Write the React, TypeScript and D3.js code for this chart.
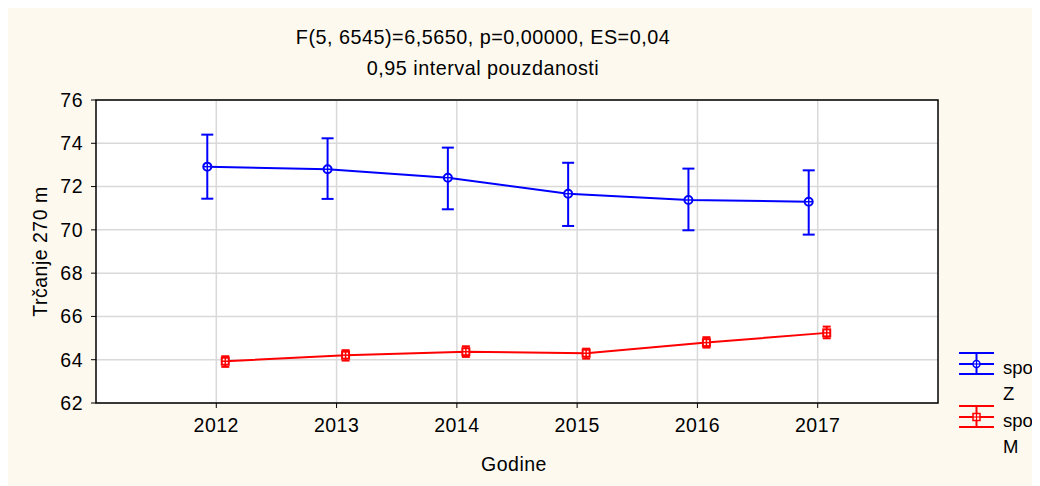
import React from "react";
import * as d3 from "d3";

const years = ["2012", "2013", "2014", "2015", "2016", "2017"];
const zMean = [72.92, 72.8, 72.41, 71.67, 71.38, 71.3];
const zUpper = [74.4, 74.23, 73.8, 73.1, 72.83, 72.75];
const zLower = [71.44, 71.43, 70.95, 70.18, 69.98, 69.78];
const mMean = [63.93, 64.21, 64.37, 64.3, 64.79, 65.24];
const mUpper = [64.16, 64.44, 64.62, 64.51, 65.04, 65.53];
const mLower = [63.67, 63.96, 64.13, 64.05, 64.56, 64.99];
const yTicks = [62, 64, 66, 68, 70, 72, 74, 76];
const titleLine1 = "F(5, 6545)=6,5650, p=0,00000, ES=0,04";
const titleLine2 = "0,95 interval pouzdanosti";
const xLabel = "Godine";
const yLabel = "Trčanje 270 m";
const legendItems = [
  { name: ["spol", "Z"], color: "#0000ff", shape: "circle" },
  { name: ["spol", "M"], color: "#ff0000", shape: "square" },
];

const W = 1032;
const H = 478;
const L = 88, T = 92, R = 930, B = 395;
const FONT = "'Liberation Sans', Arial, sans-serif";
const FS = 19.5;
const LS = 0.5;

export default function App() {
  const x = d3.scaleLinear().domain([0, 7]).range([L, R]);
  const y = d3.scaleLinear().domain([62, 76]).range([B, T]);
  const off = 9;

  const series = [
    { mean: zMean, up: zUpper, lo: zLower, color: "#0000ff", dx: -off, shape: "circle", cap: 6 },
    { mean: mMean, up: mUpper, lo: mLower, color: "#ff0000", dx: off, shape: "square", cap: 4 },
  ];

  return (
    <svg width={W} height={H} style={{ display: "block", fontFamily: FONT, letterSpacing: LS }}>
      <rect x={0} y={0} width={W} height={H} fill="#fdf9ef" />
      <text x={475} y={36} textAnchor="middle" fontSize={19.8} fill="#000">{titleLine1}</text>
      <text x={475} y={67} textAnchor="middle" fontSize={19.8} fill="#000">{titleLine2}</text>
      <rect x={L} y={T} width={R - L} height={B - T} fill="#fff" />
      {yTicks.map((t) => (
        <line key={"gy" + t} x1={L} x2={R} y1={y(t)} y2={y(t)} stroke="#d9d9d9" strokeWidth={1.5} />
      ))}
      {years.map((_, i) => (
        <line key={"gx" + i} x1={x(i + 1)} x2={x(i + 1)} y1={T} y2={B} stroke="#d9d9d9" strokeWidth={1.5} />
      ))}
      {yTicks.map((t) => (
        <g key={"ty" + t}>
          <line x1={L - 5} x2={L} y1={y(t)} y2={y(t)} stroke="#000" strokeWidth={1} />
          <text x={L - 13} y={y(t)} dy="0.35em" textAnchor="end" fontSize={FS} fill="#000">{t}</text>
        </g>
      ))}
      {years.map((yr, i) => (
        <g key={"tx" + yr}>
          <line x1={x(i + 1)} x2={x(i + 1)} y1={B} y2={B + 5} stroke="#000" strokeWidth={1} />
          <text x={x(i + 1)} y={B + 29} textAnchor="middle" fontSize={FS} fill="#000">{yr}</text>
        </g>
      ))}
      {series.map((s, si) => {
        const line = d3.line<number>().x((_, i) => x(i + 1) + s.dx).y((d) => y(d));
        return (
          <g key={"s" + si}>
            <path d={line(s.mean) || ""} fill="none" stroke={s.color} strokeWidth={2} />
            {s.mean.map((m, i) => {
              const cx = x(i + 1) + s.dx;
              return (
                <g key={i} stroke={s.color} strokeWidth={2} fill="none">
                  <line x1={cx} x2={cx} y1={y(s.up[i])} y2={y(s.lo[i])} />
                  <line x1={cx - s.cap} x2={cx + s.cap} y1={y(s.up[i])} y2={y(s.up[i])} />
                  <line x1={cx - s.cap} x2={cx + s.cap} y1={y(s.lo[i])} y2={y(s.lo[i])} />
                  {s.shape === "circle" ? (
                    <circle cx={cx} cy={y(m)} r={4} fill="#fff" />
                  ) : (
                    <rect x={cx - 3.5} y={y(m) - 3.5} width={7} height={7} fill="#fff" />
                  )}
                  {s.shape === "circle" ? (
                    <>
                      <line x1={cx} x2={cx} y1={y(m) - 4} y2={y(m) + 4} strokeWidth={1.5} />
                      <line x1={cx - 4} x2={cx + 4} y1={y(m)} y2={y(m)} strokeWidth={1.5} />
                    </>
                  ) : (
                    <>
                      <line x1={cx} x2={cx} y1={y(m) - 3.5} y2={y(m) + 3.5} strokeWidth={1.5} />
                      <line x1={cx - 3.5} x2={cx + 3.5} y1={y(m)} y2={y(m)} strokeWidth={1.5} />
                    </>
                  )}
                </g>
              );
            })}
          </g>
        );
      })}
      <rect x={L} y={T} width={R - L} height={B - T} fill="none" stroke="#000" strokeWidth={1.5} />
      <text x={506} y={463} textAnchor="middle" fontSize={FS} fill="#000">{xLabel}</text>
      <text transform={`translate(39,${(T + B) / 2}) rotate(-90)`} textAnchor="middle" fontSize={FS} fill="#000">{yLabel}</text>
      {legendItems.map((it, k) => {
        const cy = 356 + k * 53;
        const x0 = 951, x1 = 986, cx = (x0 + x1) / 2;
        return (
          <g key={"lg" + k}>
            <g stroke={it.color} strokeWidth={2} fill="none">
              <line x1={x0} x2={x1} y1={cy - 11} y2={cy - 11} />
              <line x1={x0} x2={x1} y1={cy} y2={cy} />
              <line x1={x0} x2={x1} y1={cy + 10} y2={cy + 10} />
              <line x1={cx} x2={cx} y1={cy - 11} y2={cy + 10} />
              {it.shape === "circle" ? (
                <circle cx={cx} cy={cy} r={3.5} fill="#fff" strokeWidth={1.5} />
              ) : (
                <rect x={cx - 3.5} y={cy - 3.5} width={7} height={7} fill="#fff" strokeWidth={1.5} />
              )}
              <line x1={cx} x2={cx} y1={cy - 3.5} y2={cy + 3.5} strokeWidth={1.2} />
              <line x1={cx - 3.5} x2={cx + 3.5} y1={cy} y2={cy} strokeWidth={1.2} />
            </g>
            <text x={995} y={cy + 10} fontSize={18.5} letterSpacing={0} fill="#000">{it.name[0]}</text>
            <text x={995} y={cy + 36} fontSize={18.5} letterSpacing={0} fill="#000">{it.name[1]}</text>
          </g>
        );
      })}
    </svg>
  );
}
